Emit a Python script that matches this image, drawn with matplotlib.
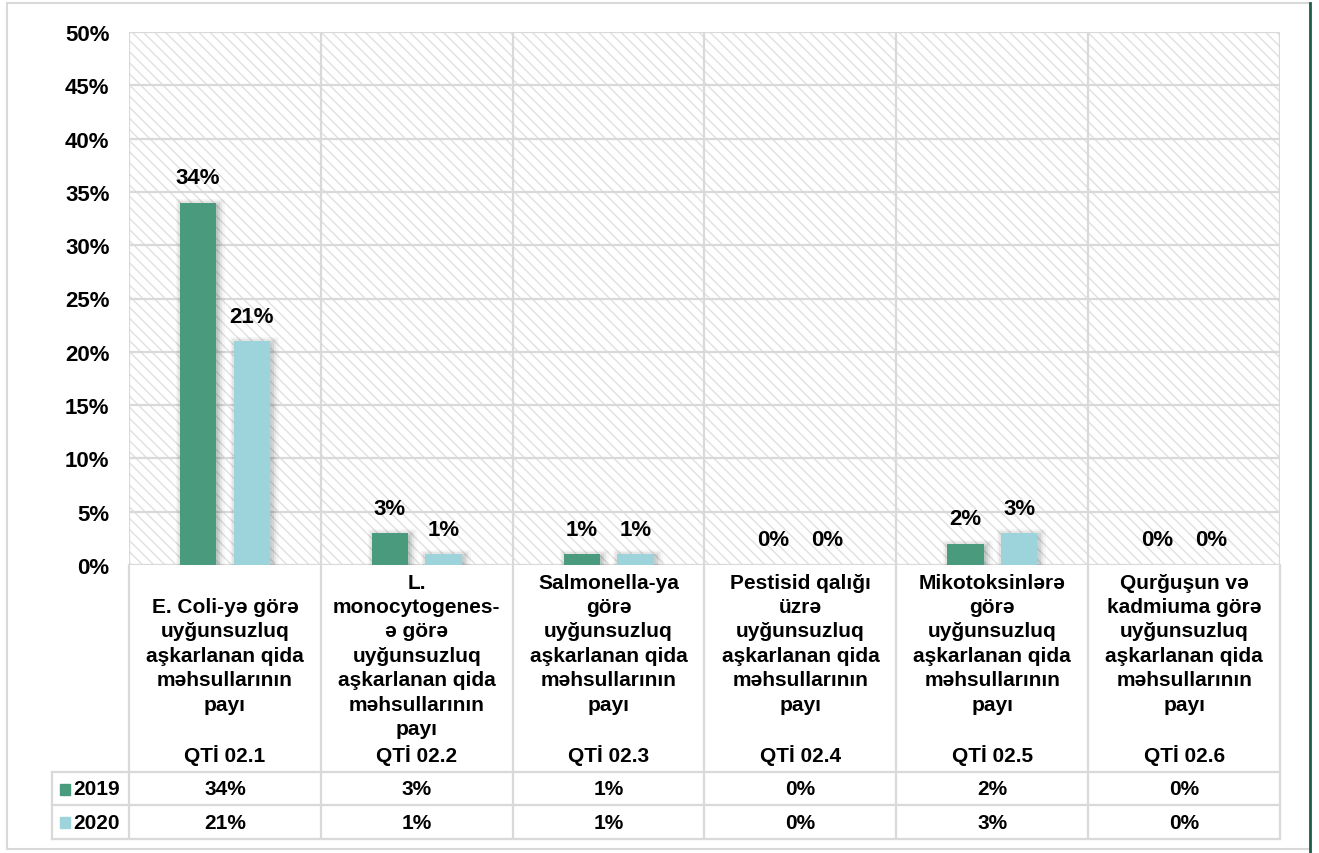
import numpy as np
import matplotlib.pyplot as plt
from matplotlib.patches import Rectangle
import matplotlib.patheffects as pe

plt.rcParams['font.family'] = ['Liberation Sans', 'DejaVu Sans']
plt.rcParams['font.weight'] = 'bold'
plt.rcParams['hatch.linewidth'] = 1.0

categories = [
    "E. Coli-yə görə\nuyğunsuzluq\naşkarlanan qida\nməhsullarının\npayı\n\nQTİ 02.1",
    "L.\nmonocytogenes-\nə görə\nuyğunsuzluq\naşkarlanan qida\nməhsullarının\npayı\nQTİ 02.2",
    "Salmonella-ya\ngörə\nuyğunsuzluq\naşkarlanan qida\nməhsullarının\npayı\n\nQTİ 02.3",
    "Pestisid qalığı\nüzrə\nuyğunsuzluq\naşkarlanan qida\nməhsullarının\npayı\n\nQTİ 02.4",
    "Mikotoksinlərə\ngörə\nuyğunsuzluq\naşkarlanan qida\nməhsullarının\npayı\n\nQTİ 02.5",
    "Qurğuşun və\nkadmiuma görə\nuyğunsuzluq\naşkarlanan qida\nməhsullarının\npayı\n\nQTİ 02.6",
]
years = ['2019', '2020']
v2019 = [34, 3, 1, 0, 2, 0]
v2020 = [21, 1, 1, 0, 3, 0]
colors = ['#4A9A7E', '#9DD3DB']
yticks = [0, 5, 10, 15, 20, 25, 30, 35, 40, 45, 50]

W, H = 1319, 854
fig = plt.figure(figsize=(W / 100, H / 100), dpi=100)

# outer frame
fig.add_artist(Rectangle((7 / W, 4 / H), 1303 / W, 846 / H, transform=fig.transFigure,
                         fill=False, edgecolor='#D9D9D9', lw=1.5))
fig.add_artist(plt.Line2D([1310 / W, 1310 / W], [0, 1 - 4 / H], transform=fig.transFigure,
                          color='#1F5E4A', lw=2))

gray = '#D9D9D9'
x0, x1 = 129, 1280
ax = fig.add_axes([x0 / W, (H - 566) / H, (x1 - x0) / W, (566 - 33) / H])
x = np.arange(len(categories))
ax.set_xlim(-0.5, len(categories) - 0.5)
ax.set_ylim(0, 50)

# hatched background
ax.add_patch(Rectangle((0, 0), 1, 1, transform=ax.transAxes, fill=False,
                       hatch='\\\\\\', edgecolor='#E0E0E0', lw=0, zorder=0))

for y in yticks:
    ax.axhline(y, color=gray, lw=1.6, zorder=1)
for k in range(len(categories) + 1):
    ax.axvline(k - 0.5, color=gray, lw=1.6, zorder=1)
for s in ax.spines.values():
    s.set_visible(False)

w, off = 0.19, 0.14
shadow = [pe.Stroke(offset=(1.5, -1.5), linewidth=9, foreground='black', alpha=0.04),
          pe.Stroke(offset=(1.5, -1.5), linewidth=6, foreground='black', alpha=0.06),
          pe.Stroke(offset=(1.5, -1.5), linewidth=3, foreground='black', alpha=0.08),
          pe.Normal()]
for vals, col, d in [(v2019, colors[0], -off), (v2020, colors[1], off)]:
    bars = ax.bar(x + d, vals, width=w, color=col, zorder=3)
    for b, v in zip(bars, vals):
        if v > 0:
            b.set_path_effects(shadow)
        ax.annotate(f'{v}%', (b.get_x() + b.get_width() / 2, v), xytext=(0, 18),
                    textcoords='offset points', ha='center', va='center',
                    fontsize=16, fontweight='bold', zorder=4)

ax.set_yticks(yticks)
ax.set_yticklabels([f'{t}%' for t in yticks], fontsize=16, fontweight='bold')
ax.tick_params(axis='y', length=0, pad=14)
ax.set_xticks([])

# data table under the chart
tab = fig.add_axes([x0 / W, (H - 840) / H, (x1 - x0) / W, (840 - 566) / H])
tab.set_xlim(-0.5, len(categories) - 0.5)
tab.set_ylim(274, 0)
tab.axis('off')
colw = (x1 - x0) / len(categories)
xleft = -0.5 - (x0 - 52) / colw
for k in range(len(categories) + 1):
    tab.plot([k - 0.5, k - 0.5], [0, 274], color=gray, lw=1.6, clip_on=False)
for y in [207, 240, 274]:
    tab.plot([xleft, len(categories) - 0.5], [y, y], color=gray, lw=1.6, clip_on=False)
tab.plot([xleft, xleft], [207, 274], color=gray, lw=1.6, clip_on=False)

for i, lab in enumerate(categories):
    tab.text(i, 200, lab, ha='center', va='bottom', fontsize=15, fontweight='bold',
             linespacing=1.36)

for r, (yr, vals, col) in enumerate(zip(years, [v2019, v2020], colors)):
    yc = 224 + 33.5 * r
    tab.add_patch(Rectangle((xleft + 0.04, yc - 5.5), 0.055, 11, color=col, clip_on=False))
    tab.text(xleft + 0.11, yc, yr, ha='left', va='center', fontsize=15, fontweight='bold')
    for i, v in enumerate(vals):
        tab.text(i, yc, f'{v}%', ha='center', va='center', fontsize=15, fontweight='bold')

fig.savefig('out.png', dpi=100)
